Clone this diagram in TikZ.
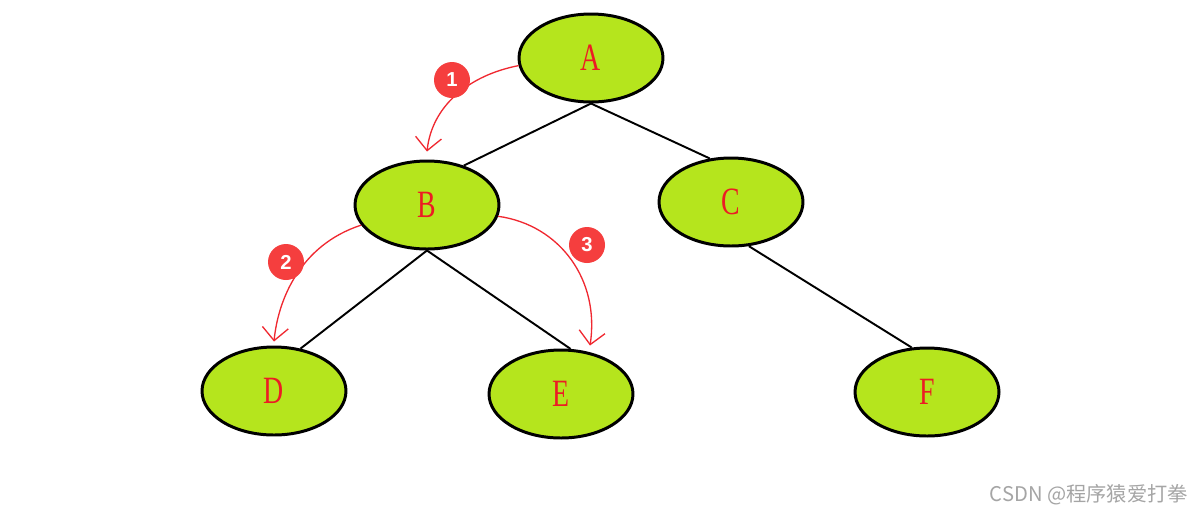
\documentclass[tikz,border=0pt]{standalone}
\usepackage{fontspec}
\setmainfont{Liberation Serif}
\newfontfamily\badgefont{Liberation Sans}
\newfontfamily\cjkfont{Noto Sans CJK SC}
\usetikzlibrary{arrows.meta,shapes.geometric}
\definecolor{leafgreen}{RGB}{181,229,29}
\definecolor{letterred}{RGB}{236,28,36}
\definecolor{penred}{RGB}{240,40,48}
\definecolor{badgered}{RGB}{245,62,62}
\definecolor{markgray}{RGB}{165,165,165}
\newcommand{\lbl}[1]{\raisebox{-0.07cm}{\scalebox{0.72}[1]{#1}}}
\tikzset{
  treenode/.style={ellipse,draw=black,line width=1.7pt,fill=leafgreen,minimum width=2.88cm,minimum height=1.76cm,inner sep=0pt,text=letterred,font=\fontsize{22}{24}\selectfont},
  edge/.style={draw=black,line width=1.1pt},
  pen/.style={draw=penred,line width=0.75pt,-{Straight Barb[length=2.6mm,width=5.2mm]}},
  badge/.style={circle,fill=badgered,minimum size=0.72cm,inner sep=0pt,text=white,font=\badgefont\bfseries\fontsize{11.5}{12}\selectfont}
}

\begin{document}
\begin{tikzpicture}[x=0.02cm,y=-0.02cm]
  \useasboundingbox[fill=white] (0,0) rectangle (1202,515);
  \node[treenode] (A) at (591,58) {\lbl{A}};
  \node[treenode] (B) at (427,205) {\lbl{B}};
  \node[treenode] (C) at (731,202) {\lbl{C}};
  \node[treenode] (D) at (274,391) {\lbl{D}};
  \node[treenode] (E) at (561,394) {\lbl{E}};
  \node[treenode] (F) at (927,392) {\lbl{F}};
  \draw[edge] (A.south) -- (B.47);
  \draw[edge] (A.south) -- (C.116);
  \draw[edge] (B.south) -- (D.58);
  \draw[edge] (B.south) -- (E.78);
  \draw[edge] (C.-68) -- (F.109);
  % traversal order
  \draw[pen] (A.186) .. controls (470,75) and (432,105) .. ([yshift=0.16cm]B.north);
  \draw[pen] (B.197) .. controls (300,245) and (278,300) .. ([yshift=0.08cm]D.north);
  \draw[pen] (B.-9) .. controls (560,225) and (600,280) .. ([xshift=0.58cm,yshift=0.06cm]E.north);
  \node[badge] (n1) at (452,80) {1};
  \node[badge] (n2) at (286,262) {2};
  \node[badge] (n3) at (587,245) {3};
  \node[anchor=east,text=markgray,font=\cjkfont\fontsize{11.5}{12}\selectfont,inner sep=0pt] (mark) at (1188,495) {CSDN @程序猿爱打拳};
\end{tikzpicture}
\end{document}
